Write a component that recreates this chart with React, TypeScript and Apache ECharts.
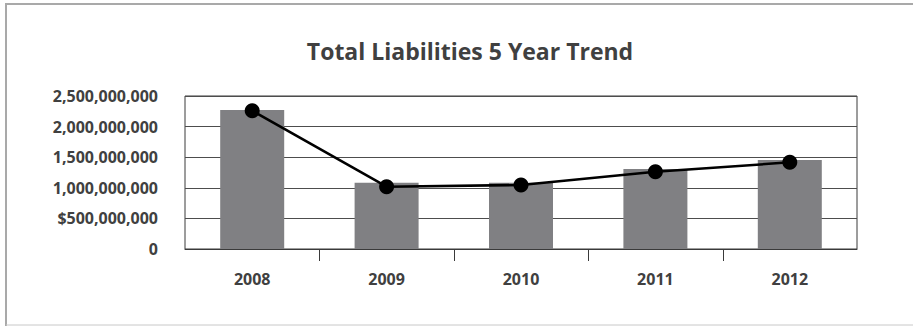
import React, { useEffect, useRef } from "react";
import * as echarts from "echarts";

const years = ["2008", "2009", "2010", "2011", "2012"];
const barValues = [2270000000, 1083000000, 1083000000, 1307000000, 1454000000];
const lineValues = [2260000000, 1018000000, 1046000000, 1263000000, 1416000000];
const yTickValues = [0, 500000000, 1000000000, 1500000000, 2000000000, 2500000000];
const yTickLabels = ["0", "$500,000,000", "1,000,000,000", "1,500,000,000", "2,000,000,000", "2,500,000,000"];
const innerBoundaries = [0, 1, 2, 3];

const FONT = "'Open Sans', 'Noto Sans', sans-serif";

export default function App() {
  const ref = useRef<HTMLDivElement>(null);
  useEffect(() => {
    if (!ref.current) return;
    const chart = echarts.init(ref.current, null, { renderer: "svg" });
    chart.setOption({
      animation: false,
      backgroundColor: "#ffffff",
      title: {
        text: "Total Liabilities 5 Year Trend",
        left: 465,
        textAlign: "center",
        top: 34,
        textStyle: { fontFamily: FONT, fontWeight: "bold", fontSize: 23, color: "#404040" },
      },
      graphic: [
        { type: "line", shape: { x1: 6, y1: 4, x2: 913, y2: 4 }, style: { stroke: "#a9a9a9", lineWidth: 2 } },
        { type: "line", shape: { x1: 6, y1: 3, x2: 6, y2: 326 }, style: { stroke: "#a9a9a9", lineWidth: 2 } },
        { type: "line", shape: { x1: 6, y1: 325, x2: 913, y2: 325 }, style: { stroke: "#c8c8c8", lineWidth: 1 } },
      ],
      grid: {
        left: 185,
        right: 56,
        top: 96,
        bottom: 77,
        show: true,
        borderColor: "#3a3a3a",
        borderWidth: 1,
        backgroundColor: "transparent",
        outerBoundsMode: "none",
      },
      xAxis: {
        type: "category",
        data: years,
        axisLine: { show: true, lineStyle: { color: "#3a3a3a", width: 1 } },
        axisTick: { show: false },
        axisLabel: { margin: 22, fontFamily: FONT, fontWeight: "bold", fontSize: 16, color: "#404040" },
      },
      yAxis: {
        type: "value",
        min: 0,
        max: 2500000000,
        interval: 500000000,
        axisLine: { show: false },
        axisTick: { show: false },
        splitLine: { show: true, lineStyle: { color: "#4d4d4d", width: 1 } },
        axisLabel: {
          margin: 27,
          fontFamily: FONT,
          fontWeight: "bold",
          fontSize: 16,
          color: "#404040",
          formatter: (v: number) => {
            const i = yTickValues.indexOf(v);
            return i >= 0 ? yTickLabels[i] : "";
          },
        },
      },
      series: [
        {
          type: "bar",
          data: barValues,
          barWidth: 64,
          itemStyle: { color: "#808083" },
        },
        {
          type: "line",
          data: lineValues,
          symbol: "circle",
          symbolSize: 15,
          lineStyle: { color: "#000000", width: 2.5 },
          itemStyle: { color: "#000000" },
        },
        {
          type: "custom",
          clip: false,
          silent: true,
          data: innerBoundaries,
          renderItem: (params: any, api: any) => {
            const c = api.coord([api.value(0), 0]);
            const bw = api.size([1, 0])[0];
            const x = Math.round(c[0] + bw / 2) + 0.5;
            return {
              type: "line",
              shape: { x1: x, y1: c[1], x2: x, y2: c[1] + 12 },
              style: { stroke: "#3a3a3a", lineWidth: 1 },
            };
          },
        },
      ],
    });
    return () => chart.dispose();
  }, []);
  return (
    <div
      ref={ref}
      style={{ position: "fixed", left: 0, top: 0, width: 913, height: 326 }}
    />
  );
}
